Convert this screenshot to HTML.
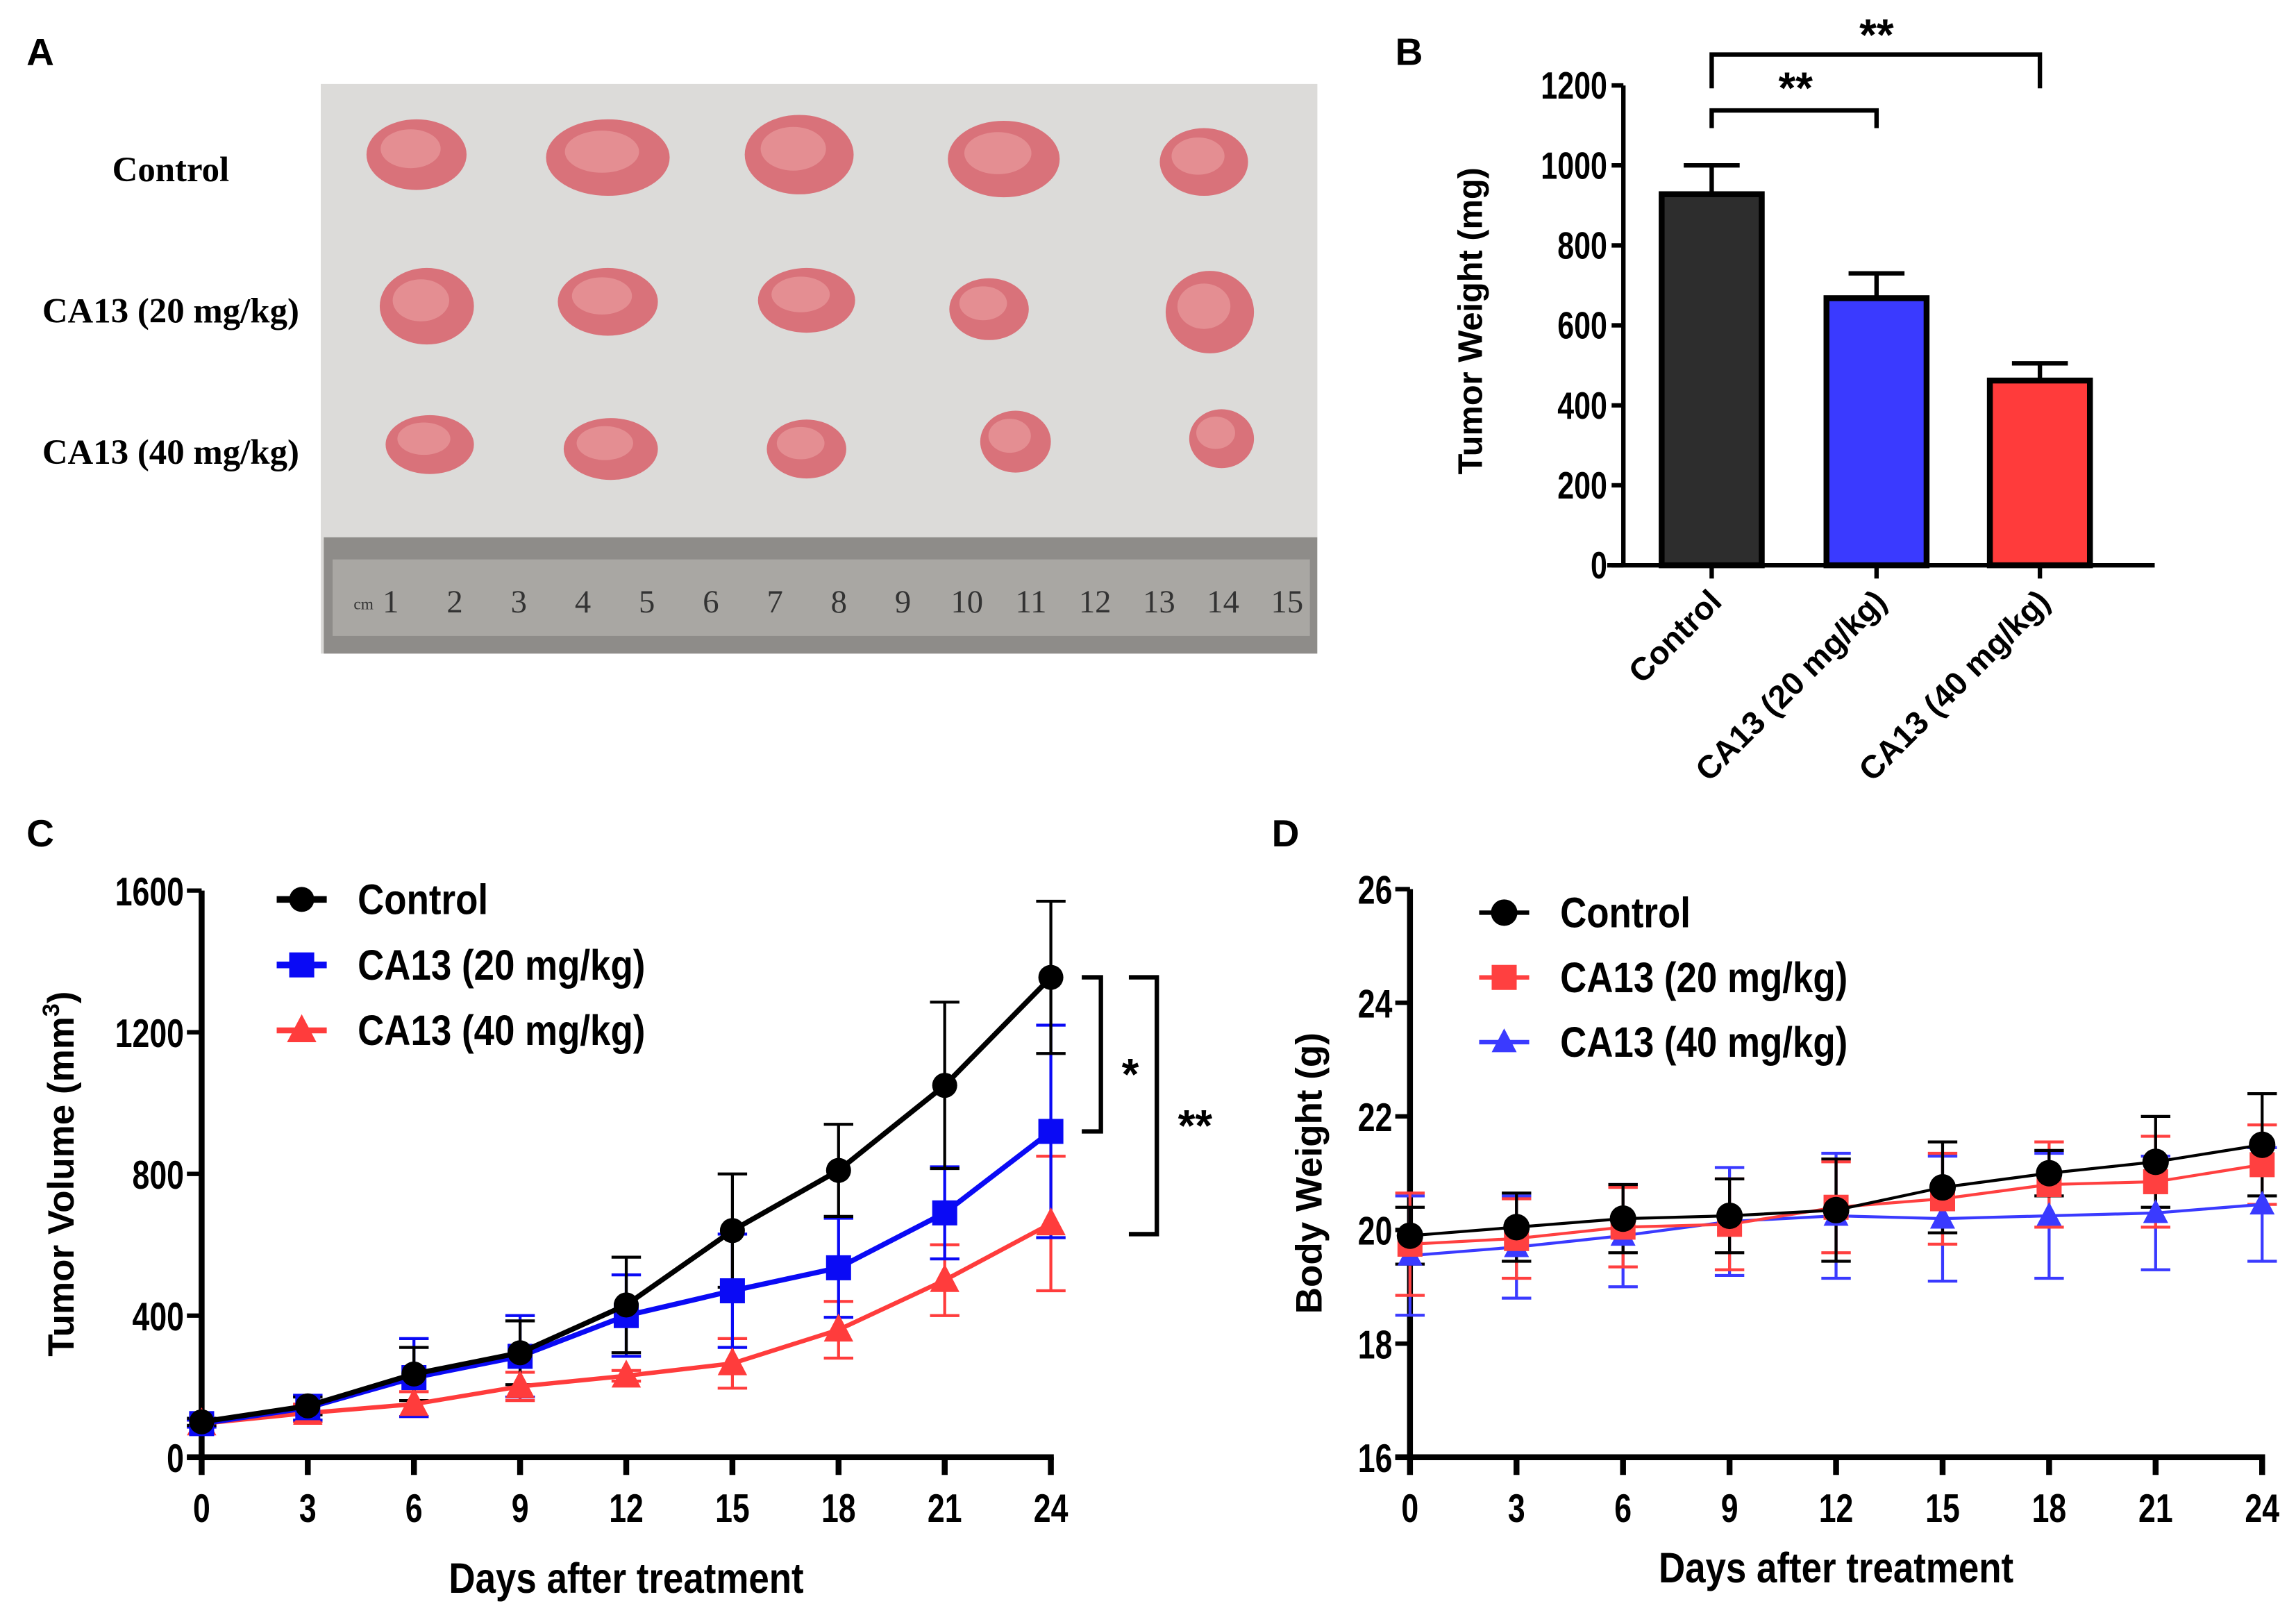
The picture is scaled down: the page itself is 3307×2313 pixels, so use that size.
<!DOCTYPE html>
<html><head><meta charset="utf-8"><style>
html,body{margin:0;padding:0;background:#fff;}
svg{display:block;}
</style></head><body>
<svg id="fig" xmlns="http://www.w3.org/2000/svg" width="3307" height="2313" viewBox="0 0 1560 1091" font-family="Liberation Sans, sans-serif">
<rect x="0" y="0" width="1560" height="1091" fill="#fff"/>
<g>
<text x="18" y="44" font-size="26" font-weight="bold">A</text>
<rect x="218" y="57" width="677" height="387" fill="#d9d8d6"/>
<rect x="218" y="57" width="677" height="310" fill="#dcdbd9"/>
<rect x="220" y="365" width="675" height="79" fill="#8e8c89"/>
<rect x="226" y="380" width="664" height="52" fill="#a9a7a3"/>
<g id="ruler-nums" style="font-family:'Liberation Serif',serif" font-size="22" fill="#333"></g>
<g id="tumors"></g>
<text x="116" y="123" style="font-family:'Liberation Serif',serif" font-weight="bold" font-size="24" text-anchor="middle">Control</text>
<text x="116" y="219" style="font-family:'Liberation Serif',serif" font-weight="bold" font-size="24" text-anchor="middle">CA13 (20 mg/kg)</text>
<text x="116" y="315" style="font-family:'Liberation Serif',serif" font-weight="bold" font-size="24" text-anchor="middle">CA13 (40 mg/kg)</text>
</g>
<g id="panelB"></g>
<g id="panelC"></g>
<g id="panelD"></g>
</svg>
<script>
// ---- Data ----
const barCategories = ["Control","CA13 (20 mg/kg)","CA13 (40 mg/kg)"];
const barValues = [928, 668, 462];
const barErrors = [72, 62, 43];
const days = [0,3,6,9,12,15,18,21,24];
const tvControl = [100,145,235,295,430,640,810,1050,1355];
const tvControlSD = [10,25,75,90,135,160,130,235,215];
const tv20 = [95,140,225,285,400,470,535,690,920];
const tv20SD = [10,35,110,115,115,160,140,130,300];
const tv40 = [95,125,150,200,230,265,360,500,660];
const tv40SD = [10,25,35,40,15,70,80,100,190];
const bwControl = [19.9,20.05,20.2,20.25,20.35,20.75,21.0,21.2,21.5];
const bwControlSD = [0.5,0.6,0.6,0.65,0.9,0.8,0.4,0.8,0.9];
const bw20 = [19.75,19.85,20.05,20.1,20.4,20.55,20.8,20.85,21.15];
const bw20SD = [0.9,0.7,0.7,0.8,0.8,0.8,0.75,0.8,0.7];
const bw40 = [19.55,19.7,19.9,20.15,20.25,20.2,20.25,20.3,20.45];
const bw40SD = [1.05,0.9,0.9,0.95,1.1,1.1,1.1,1.0,1.0];
const tvTicks = [0,400,800,1200,1600];
const bwTicks = [16,18,20,22,24,26];
const bwTickLabels = ["16","18","20","22","24","26"];
const barTicks = [0,200,400,600,800,1000,1200];

const NS="http://www.w3.org/2000/svg";
function mk(tag, parent, attrs){const e=document.createElementNS(NS,tag);for(const k in attrs)e.setAttribute(k,attrs[k]);parent.appendChild(e);return e;}
function ctext(parent,x,y,str,size,anchor,sx){const g=mk('g',parent,{transform:`translate(${x},${y}) scale(${sx||0.78},1)`});const t=mk('text',g,{x:0,y:0,'font-size':size,'font-weight':'bold','text-anchor':anchor||'middle'});t.textContent=str;return t;}

// ---- Panel A ----
const tg=document.getElementById('tumors');
const tumorPos=[[283,105,34,24],[413,107,42,26],[543,105,37,27],[682,108,38,26],[818,110,30,23],
[290,208,32,26],[413,205,34,23],[548,204,33,22],[672,210,27,21],[822,212,30,28],
[292,302,30,20],[415,305,32,21],[548,305,27,20],[690,300,24,21],[830,298,22,20]];
tumorPos.forEach((p,i)=>{
  const e=mk('ellipse',tg,{cx:p[0],cy:p[1],rx:p[2],ry:p[3],fill:'#d9727a'});
  
  
  mk('ellipse',tg,{cx:p[0]-4,cy:p[1]-4,rx:p[2]*0.6,ry:p[3]*0.55,fill:'#e89a9c',opacity:0.7});
});
const rn=document.getElementById('ruler-nums');
for(let i=1;i<=15;i++){const t=mk('text',rn,{x:222+i*43.5,y:416,'text-anchor':'middle'});t.textContent=i;}
const cmt=mk('text',rn,{x:247,y:414,'font-size':11,'text-anchor':'middle'});cmt.textContent='cm';

// ---- Panel B ----
(function(){
const g=document.getElementById('panelB');
const L=mk('text',g,{x:948,y:44,'font-size':26,'font-weight':'bold'});L.textContent='B';


const y0=384,y1=58,ax=1103;
const ys=v=>y0-(v/1200)*(y0-y1);
const cx=[1163,1275,1386], bw=68;
const cols=['#2d2d2d','#3a3aff','#ff3b3b'];
mk('line',g,{x1:ax,y1:y1,x2:ax,y2:y0+1,stroke:'#000','stroke-width':3});
mk('line',g,{x1:1092,y1:y0,x2:1464,y2:y0,stroke:'#000','stroke-width':3});
barTicks.forEach(v=>{mk('line',g,{x1:ax-8,y1:ys(v),x2:ax,y2:ys(v),stroke:'#000','stroke-width':3});
  const t=ctext(g,ax-11,ys(v)+9,String(v),26,'end');
  
  });
barValues.forEach((v,i)=>{
  const c=cx[i];
  const eb=mk('path',g,{d:`M${c},${ys(v)} V${ys(v+barErrors[i])} M${c-19},${ys(v+barErrors[i])} H${c+19}`,stroke:'#000','stroke-width':3,fill:'none'});
  
  
  const r=mk('rect',g,{x:c-bw/2,y:ys(v),width:bw,height:y0-ys(v),fill:cols[i],stroke:'#000','stroke-width':4});
  
  
  mk('line',g,{x1:c,y1:y0,x2:c,y2:y0+9,stroke:'#000','stroke-width':3});
  const t=mk('text',g,{x:0,y:0,'font-size':22,'font-weight':'bold','text-anchor':'end',transform:`translate(${c+8},${y0+26}) rotate(-45)`});
  t.textContent=barCategories[i];
  
  
});
const yl=mk('text',g,{x:0,y:0,'font-size':23,'font-weight':'bold','text-anchor':'middle',transform:'translate(1007,218) rotate(-90)'});
yl.textContent='Tumor Weight (mg)';


const b1=mk('path',g,{d:`M${cx[0]},87 V75 H${cx[1]} V87`,stroke:'#000','stroke-width':3,fill:'none'});


const b2=mk('path',g,{d:`M${cx[0]},60 V37 H${cx[2]} V60`,stroke:'#000','stroke-width':3,fill:'none'});


const s1=mk('text',g,{x:1220,y:70,'font-size':30,'font-weight':'bold','text-anchor':'middle'});s1.textContent='**';
const s2=mk('text',g,{x:1275,y:34,'font-size':30,'font-weight':'bold','text-anchor':'middle'});s2.textContent='**';
})();

function marker(g,type,x,y,c,s){
  if(type==='circle')return mk('circle',g,{cx:x,cy:y,r:s,fill:c});
  if(type==='square')return mk('rect',g,{x:x-s,y:y-s,width:2*s,height:2*s,fill:c});
  return mk('path',g,{d:`M${x},${y-s*1.1} L${x+s},${y+s*0.8} L${x-s},${y+s*0.8} Z`,fill:c});
}
function lineChart(g,o){
  const xs=d=>o.x0+(d/24)*(o.x1-o.x0);
  const ys=v=>o.y0-((v-o.vmin)/(o.vmax-o.vmin))*(o.y0-o.y1);
  mk('line',g,{x1:o.x0,y1:o.y1,x2:o.x0,y2:o.y0+2,stroke:'#000','stroke-width':4});
  mk('line',g,{x1:o.x0-10,y1:o.y0,x2:o.x1+2,y2:o.y0,stroke:'#000','stroke-width':4});
  o.ticks.forEach((v,i)=>{mk('line',g,{x1:o.x0-10,y1:ys(v),x2:o.x0,y2:ys(v),stroke:'#000','stroke-width':3});
    const t=ctext(g,o.x0-12,ys(v)+10,o.tickLabels[i],27,'end');
    
    });
  days.forEach(d=>{mk('line',g,{x1:xs(d),y1:o.y0,x2:xs(d),y2:o.y0+12,stroke:'#000','stroke-width':4});
    const t=ctext(g,xs(d),o.y0+44,String(d),27,'middle');
    
    });
  const drawOrder=o.series.slice().reverse();
  drawOrder.forEach(s=>{
    s.sd.forEach((e,i)=>{const x=xs(days[i]);
      const p=mk('path',g,{d:`M${x},${ys(s.v[i]-e)} V${ys(s.v[i]+e)} M${x-10},${ys(s.v[i]+e)} H${x+10} M${x-10},${ys(s.v[i]-e)} H${x+10}`,stroke:s.c,'stroke-width':2,fill:'none'});
      
      });
  });
  drawOrder.forEach(s=>{
    const pl=mk('polyline',g,{points:s.v.map((v,i)=>xs(days[i])+','+ys(v)).join(' '),fill:'none',stroke:s.c,'stroke-width':s.lw});
    
    
    s.v.forEach((v,i)=>{const m=marker(g,s.m,xs(days[i]),ys(v),s.c,s.ms);
      
      });
  });
  o.series.forEach((s,i)=>{
    const ly=o.legY+i*o.legDy;
    mk('line',g,{x1:o.legX-17,y1:ly,x2:o.legX+17,y2:ly,stroke:s.c,'stroke-width':s.lw+1});
    const m=marker(g,s.m,o.legX,ly,s.c,s.ms);
    
    
    const t=ctext(g,o.legX+38,ly+10,s.label,29,'start',0.86);
    
    
  });
  const yl=mk('text',g,{x:0,y:0,'font-size':25,'font-weight':'bold','text-anchor':'middle',transform:`translate(${o.ylx},${(o.y0+o.y1)/2}) rotate(-90)`});
  if(o.sup){yl.innerHTML='Tumor Volume (mm<tspan dy="-10" font-size="16">3</tspan><tspan dy="10">)</tspan>';}else yl.textContent=o.ylabel;
  
  
  const xl=ctext(g,(o.x0+o.x1)/2,o.xly,'Days after treatment',29,'middle',0.86);
  
  
  return {xs,ys};
}

// ---- Panel C ----
(function(){
const g=document.getElementById('panelC');
const L=mk('text',g,{x:18,y:575,'font-size':26,'font-weight':'bold'});L.textContent='C';


const r=lineChart(g,{x0:137,x1:714,y0:990,y1:605,vmin:0,vmax:1600,ticks:tvTicks,tickLabels:tvTicks.map(String),
 legX:205,legY:611,legDy:44.5,ylx:50,sup:true,xly:1082,
 series:[{name:'control',label:'Control',v:tvControl,sd:tvControlSD,c:'#000',m:'circle',ms:8.5,lw:3.5},
         {name:'ca13-20',label:'CA13 (20 mg/kg)',v:tv20,sd:tv20SD,c:'#0a0af5',m:'square',ms:8.5,lw:3.5},
         {name:'ca13-40',label:'CA13 (40 mg/kg)',v:tv40,sd:tv40SD,c:'#ff3c3c',m:'triangle',ms:10,lw:3}]});
const yA=r.ys(tvControl[8]), yB=r.ys(tv20[8]), yC=r.ys(630);
const p1=mk('path',g,{d:`M735,${yA} H748 V${yB} H735`,stroke:'#000','stroke-width':3,fill:'none'});


const p2=mk('path',g,{d:`M767,${yA} H786 V${yC} H767`,stroke:'#000','stroke-width':3,fill:'none'});


const s1=mk('text',g,{x:768,y:740,'font-size':30,'font-weight':'bold','text-anchor':'middle'});s1.textContent='*';
const s2=mk('text',g,{x:812,y:775,'font-size':30,'font-weight':'bold','text-anchor':'middle'});s2.textContent='**';
})();

// ---- Panel D ----
(function(){
const g=document.getElementById('panelD');
const L=mk('text',g,{x:864,y:575,'font-size':26,'font-weight':'bold'});L.textContent='D';


lineChart(g,{x0:958,x1:1537,y0:990,y1:604,vmin:16,vmax:26,ticks:bwTicks,tickLabels:bwTickLabels,
 legX:1022,legY:620,legDy:44,ylx:898,ylabel:'Body Weight (g)',xly:1075,
 series:[{name:'control',label:'Control',v:bwControl,sd:bwControlSD,c:'#000',m:'circle',ms:9,lw:2},
         {name:'ca13-20',label:'CA13 (20 mg/kg)',v:bw20,sd:bw20SD,c:'#ff4040',m:'square',ms:8.5,lw:2},
         {name:'ca13-40',label:'CA13 (40 mg/kg)',v:bw40,sd:bw40SD,c:'#3a3aff',m:'triangle',ms:8.5,lw:2}]});
})();
</script>
</body></html>
